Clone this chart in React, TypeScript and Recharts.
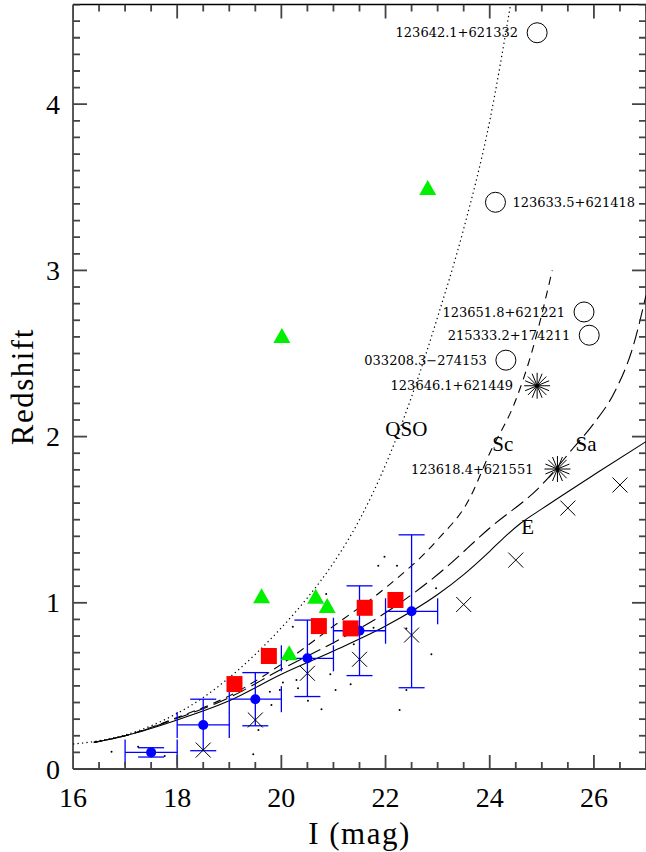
import React from "react";
import { ComposedChart, XAxis, YAxis, Line, Scatter, ErrorBar, ReferenceLine } from "recharts";

// axis ticks (major every 2 mag / every 1 in z, minor every 0.5 / 0.1)
const xTicks = [16, 16.5, 17, 17.5, 18, 18.5, 19, 19.5, 20, 20.5, 21, 21.5, 22, 22.5, 23, 23.5, 24, 24.5, 25, 25.5, 26, 26.5, 27];
const xLabels = [16, 18, 20, 22, 24, 26];
const yTicks = [
  0, 0.1, 0.2, 0.3, 0.4, 0.5, 0.6, 0.7, 0.8, 0.9, 1, 1.1, 1.2, 1.3, 1.4, 1.5, 1.6, 1.7, 1.8, 1.9, 2,
  2.1, 2.2, 2.3, 2.4, 2.5, 2.6, 2.7, 2.8, 2.9, 3, 3.1, 3.2, 3.3, 3.4, 3.5, 3.6, 3.7, 3.8, 3.9, 4,
  4.1, 4.2, 4.3, 4.4, 4.5, 4.6,
];
const yLabels = [0, 1, 2, 3, 4];

// model tracks
const qsoMag = [16, 16.5, 17, 17.5, 18, 18.5, 19, 19.5, 20, 20.5, 21, 21.5, 22, 22.5, 23, 23.5, 24, 24.4];
const qsoZ = [0.15, 0.17, 0.205, 0.26, 0.335, 0.43, 0.55, 0.69, 0.85, 1.03, 1.24, 1.5, 1.83, 2.24, 2.72, 3.25, 3.9, 4.6];
const scMag = [16.4, 17, 18, 19, 20, 21, 22, 23, 23.6, 24, 24.5, 24.8, 25.2];
const scZ = [0.16, 0.2, 0.31, 0.44, 0.63, 0.86, 1.09, 1.38, 1.62, 1.9, 2.22, 2.5, 3.0];
const saMag = [16.4, 17, 18, 19, 20, 21, 22, 23, 24, 25, 25.6, 26, 26.4, 26.75, 27];
const saZ = [0.16, 0.2, 0.305, 0.43, 0.6, 0.76, 0.94, 1.17, 1.45, 1.71, 1.93, 2.08, 2.27, 2.54, 2.85];
const eMag = [16.4, 17, 18, 19, 20, 21, 22, 23, 23.5, 24, 24.3, 24.6, 25, 26, 27];
const eZ = [0.16, 0.2, 0.295, 0.41, 0.57, 0.71, 0.86, 1.05, 1.17, 1.31, 1.4, 1.48, 1.565, 1.77, 1.97];

// binned means with errors
const binMag = [17.5, 18.5, 19.5, 20.5, 21.5, 22.5];
const binZ = [0.1, 0.265, 0.42, 0.666, 0.832, 0.949];
const binMagErr = [0.5, 0.5, 0.5, 0.5, 0.5, 0.5];
const binZErr = [0.028, 0.155, 0.16, 0.23, 0.27, 0.46];

// medians (crosses)
const crossMag = [18.5, 19.5, 20.5, 21.5, 22.5, 23.5, 24.5, 25.5, 26.5];
const crossZ = [0.114, 0.295, 0.576, 0.66, 0.806, 0.99, 1.257, 1.57, 1.709];

// red squares
const squareMag = [19.1, 19.76, 20.72, 21.33, 21.6, 22.19];
const squareZ = [0.511, 0.68, 0.86, 0.846, 0.97, 1.017];

// green triangles
const triMag = [19.62, 20.01, 20.15, 20.66, 20.88, 22.81];
const triZ = [1.033, 2.6, 0.69, 1.03, 0.975, 3.49];

// named objects
const circleNames = ["123642.1+621332", "123633.5+621418", "123651.8+621221", "215333.2+174211", "033208.3\u2212274153"];
const circleMag = [24.91, 24.11, 25.81, 25.91, 24.31];
const circleZ = [4.43, 3.41, 2.75, 2.61, 2.46];
const starNames = ["123646.1+621449", "123618.4+621551"];
const starMag = [24.91, 25.3];
const starZ = [2.306, 1.805];

// faint field points
const fieldMag = [16.74, 17.25, 17.76, 19.46, 19.56, 19.78, 19.81, 19.97, 20.03, 20.22, 20.29, 20.32, 20.51, 20.77, 20.86, 20.94, 21.04, 21.33, 21.39, 21.77, 21.86, 21.98, 22.22, 22.27, 22.4, 22.4, 22.88, 22.97];
const fieldZ = [0.104, 0.134, 0.078, 0.088, 0.235, 0.465, 0.385, 0.475, 0.52, 0.856, 0.535, 0.486, 0.41, 0.36, 1.053, 0.57, 0.475, 0.51, 0.75, 0.85, 1.223, 1.277, 1.223, 0.355, 0.475, 0.846, 0.69, 1.087];

// track labels
const trackNames = ["QSO", "Sc", "Sa", "E"];
const trackMag = [22.4, 24.25, 25.85, 24.73];
const trackZ = [2.05, 1.96, 1.96, 1.456];

const X_MIN = 16;
const X_MAX = 27;
const Y_MIN = 0;
const Y_MAX = 4.6;

const zip = (xs: number[], ys: number[]) => xs.map((x, i) => ({ x, y: ys[i] }));

const qsoData = zip(qsoMag, qsoZ);
const scData = zip(scMag, scZ);
const saData = zip(saMag, saZ);
const eData = zip(eMag, eZ);
const binData = binMag.map((x, i) => ({ x, y: binZ[i], xerr: binMagErr[i], yerr: binZErr[i] }));
const crossData = zip(crossMag, crossZ);
const squareData = zip(squareMag, squareZ);
const triData = zip(triMag, triZ);
const circleData = circleMag.map((x, i) => ({ x, y: circleZ[i], name: circleNames[i] }));
const starData = starMag.map((x, i) => ({ x, y: starZ[i], name: starNames[i] }));
const fieldData = zip(fieldMag, fieldZ);
const trackData = trackMag.map((x, i) => ({ x, y: trackZ[i], name: trackNames[i] }));

// frame tick marks, placed through the chart scales
const bottomTickData = xTicks.map((x) => ({ x, y: Y_MIN }));
const topTickData = xTicks.map((x) => ({ x, y: Y_MAX }));
const leftTickData = yTicks.map((y) => ({ x: X_MIN, y }));
const rightTickData = yTicks.map((y) => ({ x: X_MAX, y }));

const W = 646;
const H = 852;
const PLOT_TOP = 4.5;
const PLOT_LEFT = 73;
const PLOT_BOTTOM = 769;
const PLOT_RIGHT = 646;

const SERIF = "Liberation Serif";
const LABEL_FONT = "DejaVu Serif";
const RIGHT_LABELS = ["123633.5+621418"];
const TICK_COLOR = "#444";
const TICK_W = 1.8;

const isMajor = (v: number, list: number[]) => list.some((m) => Math.abs(m - v) < 1e-6);
const xLen = (p: any) => (p && isMajor(p.x, xLabels) ? 14 : 7);
const yLen = (p: any) => (p && isMajor(p.y, yLabels) ? 14 : 7);

const XLabel = ({ x, payload }: any) =>
  isMajor(payload.value, xLabels) ? (
    <text x={x} y={PLOT_BOTTOM + 38} textAnchor="middle" fontFamily={SERIF} fontSize={28} fill="#000">
      {payload.value}
    </text>
  ) : (
    <g />
  );

const YLabel = ({ y, payload }: any) =>
  isMajor(payload.value, yLabels) ? (
    <text x={PLOT_LEFT - 13} y={y} dy="0.34em" textAnchor="end" fontFamily={SERIF} fontSize={28} fill="#000">
      {payload.value}
    </text>
  ) : (
    <g />
  );

const BottomTick = ({ cx, cy, payload }: any) => (
  <line x1={cx} y1={cy} x2={cx} y2={cy - xLen(payload)} stroke={TICK_COLOR} strokeWidth={TICK_W} />
);
const TopTick = ({ cx, cy, payload }: any) => (
  <line x1={cx} y1={cy} x2={cx} y2={cy + xLen(payload)} stroke={TICK_COLOR} strokeWidth={TICK_W} />
);
const LeftTick = ({ cx, cy, payload }: any) => (
  <line x1={cx} y1={cy} x2={cx + yLen(payload)} y2={cy} stroke={TICK_COLOR} strokeWidth={TICK_W} />
);
const RightTick = ({ cx, cy, payload }: any) => (
  <line x1={cx} y1={cy} x2={cx - yLen(payload)} y2={cy} stroke={TICK_COLOR} strokeWidth={TICK_W} />
);

const BlueDot = ({ cx, cy }: any) => <circle cx={cx} cy={cy} r={5} fill="#0000ff" />;

const Cross = ({ cx, cy }: any) => (
  <g stroke="#000" strokeWidth={1}>
    <line x1={cx - 7.5} y1={cy - 7.5} x2={cx + 7.5} y2={cy + 7.5} />
    <line x1={cx - 7.5} y1={cy + 7.5} x2={cx + 7.5} y2={cy - 7.5} />
  </g>
);

const Square = ({ cx, cy }: any) => <rect x={cx - 8} y={cy - 8} width={16} height={16} fill="#ff0000" />;

const Triangle = ({ cx, cy }: any) => (
  <polygon points={`${cx},${cy - 9} ${cx + 8.5},${cy + 6} ${cx - 8.5},${cy + 6}`} fill="#00f000" />
);

const ObjLabel = ({ cx, cy, name, gap }: any) => {
  const right = RIGHT_LABELS.includes(name);
  return (
    <text
      x={right ? cx + 17 : cx - gap}
      y={cy}
      dy="0.36em"
      textAnchor={right ? "start" : "end"}
      fontFamily={LABEL_FONT}
      fontSize={13}
      fill="#000"
    >
      {name}
    </text>
  );
};

const OpenCircle = ({ cx, cy, payload }: any) => (
  <g>
    <circle cx={cx} cy={cy} r={10} fill="none" stroke="#000" strokeWidth={1} />
    <ObjLabel cx={cx} cy={cy} name={payload.name} gap={19} />
  </g>
);

const Star = ({ cx, cy, payload }: any) => {
  const angles = [0, 22.5, 45, 67.5, 90, 112.5, 135, 157.5];
  return (
    <g>
      {angles.map((a) => {
        const dx = 13 * Math.cos((a * Math.PI) / 180);
        const dy = 13 * Math.sin((a * Math.PI) / 180);
        return <line key={a} x1={cx - dx} y1={cy - dy} x2={cx + dx} y2={cy + dy} stroke="#000" strokeWidth={1} />;
      })}
      <circle cx={cx} cy={cy} r={2} fill="#000" />
      <ObjLabel cx={cx} cy={cy} name={payload.name} gap={24} />
    </g>
  );
};

const Dot = ({ cx, cy }: any) => <circle cx={cx} cy={cy} r={1} fill="#000" />;

const TrackLabel = ({ cx, cy, payload }: any) => (
  <text x={cx} y={cy} dy="0.35em" textAnchor="middle" fontFamily={SERIF} fontSize={21} fill="#000">
    {payload.name}
  </text>
);

export default function App() {
  return (
    <div style={{ position: "absolute", left: 0, top: 0, background: "#fff" }}>
      <ComposedChart width={W} height={H} margin={{ top: PLOT_TOP, right: W - PLOT_RIGHT, bottom: 0, left: 0 }}>
        <XAxis
          dataKey="x"
          type="number"
          domain={[X_MIN, X_MAX]}
          ticks={xTicks}
          interval={0}
          allowDataOverflow
          height={H - PLOT_BOTTOM}
          tickLine={false}
          axisLine={{ stroke: "#000", strokeWidth: 1.3 }}
          tick={(p: any) => <XLabel {...p} />}
          label={{ value: "I (mag)", position: "insideBottom", offset: 8, fontSize: 31, fontFamily: SERIF, fill: "#000", letterSpacing: 1.5 }}
        />
        <YAxis
          dataKey="y"
          type="number"
          domain={[Y_MIN, Y_MAX]}
          ticks={yTicks}
          interval={0}
          allowDataOverflow
          width={PLOT_LEFT}
          tickLine={false}
          axisLine={{ stroke: "#000", strokeWidth: 1.3 }}
          tick={(p: any) => <YLabel {...p} />}
          label={{ value: "Redshift", angle: -90, position: "insideLeft", offset: 22, fontSize: 31, fontFamily: SERIF, fill: "#000", letterSpacing: 1.5, style: { textAnchor: "middle" } }}
        />
        <ReferenceLine y={Y_MAX} stroke="#000" strokeWidth={1.3} />
        <ReferenceLine x={X_MAX} stroke="#000" strokeWidth={1.3} />

        <Line data={qsoData} dataKey="y" type="monotone" stroke="#000" strokeWidth={1.2} strokeDasharray="1.3 3.2" dot={false} isAnimationActive={false} />
        <Line data={scData} dataKey="y" type="monotone" stroke="#000" strokeWidth={1.1} strokeDasharray="8 6" dot={false} isAnimationActive={false} />
        <Line data={saData} dataKey="y" type="monotone" stroke="#000" strokeWidth={1.1} strokeDasharray="15 6" dot={false} isAnimationActive={false} />
        <Line data={eData} dataKey="y" type="monotone" stroke="#000" strokeWidth={1.1} dot={false} isAnimationActive={false} />

        <Scatter data={fieldData} shape={Dot} isAnimationActive={false} />
        <Scatter data={crossData} shape={Cross} isAnimationActive={false} />
        <Scatter data={binData} shape={BlueDot} isAnimationActive={false}>
          <ErrorBar dataKey="xerr" direction="x" width={13} stroke="#0000ff" strokeWidth={1.3} isAnimationActive={false} />
          <ErrorBar dataKey="yerr" direction="y" width={13} stroke="#0000ff" strokeWidth={1.3} isAnimationActive={false} />
        </Scatter>
        <Scatter data={squareData} shape={Square} isAnimationActive={false} />
        <Scatter data={triData} shape={Triangle} isAnimationActive={false} />
        <Scatter data={circleData} shape={OpenCircle} isAnimationActive={false} />
        <Scatter data={starData} shape={Star} isAnimationActive={false} />
        <Scatter data={trackData} shape={TrackLabel} isAnimationActive={false} />

        {/* inward tick marks on all four frame edges, drawn last */}
        <Scatter data={bottomTickData} shape={BottomTick} isAnimationActive={false} />
        <Scatter data={topTickData} shape={TopTick} isAnimationActive={false} />
        <Scatter data={leftTickData} shape={LeftTick} isAnimationActive={false} />
        <Scatter data={rightTickData} shape={RightTick} isAnimationActive={false} />
      </ComposedChart>
    </div>
  );
}
